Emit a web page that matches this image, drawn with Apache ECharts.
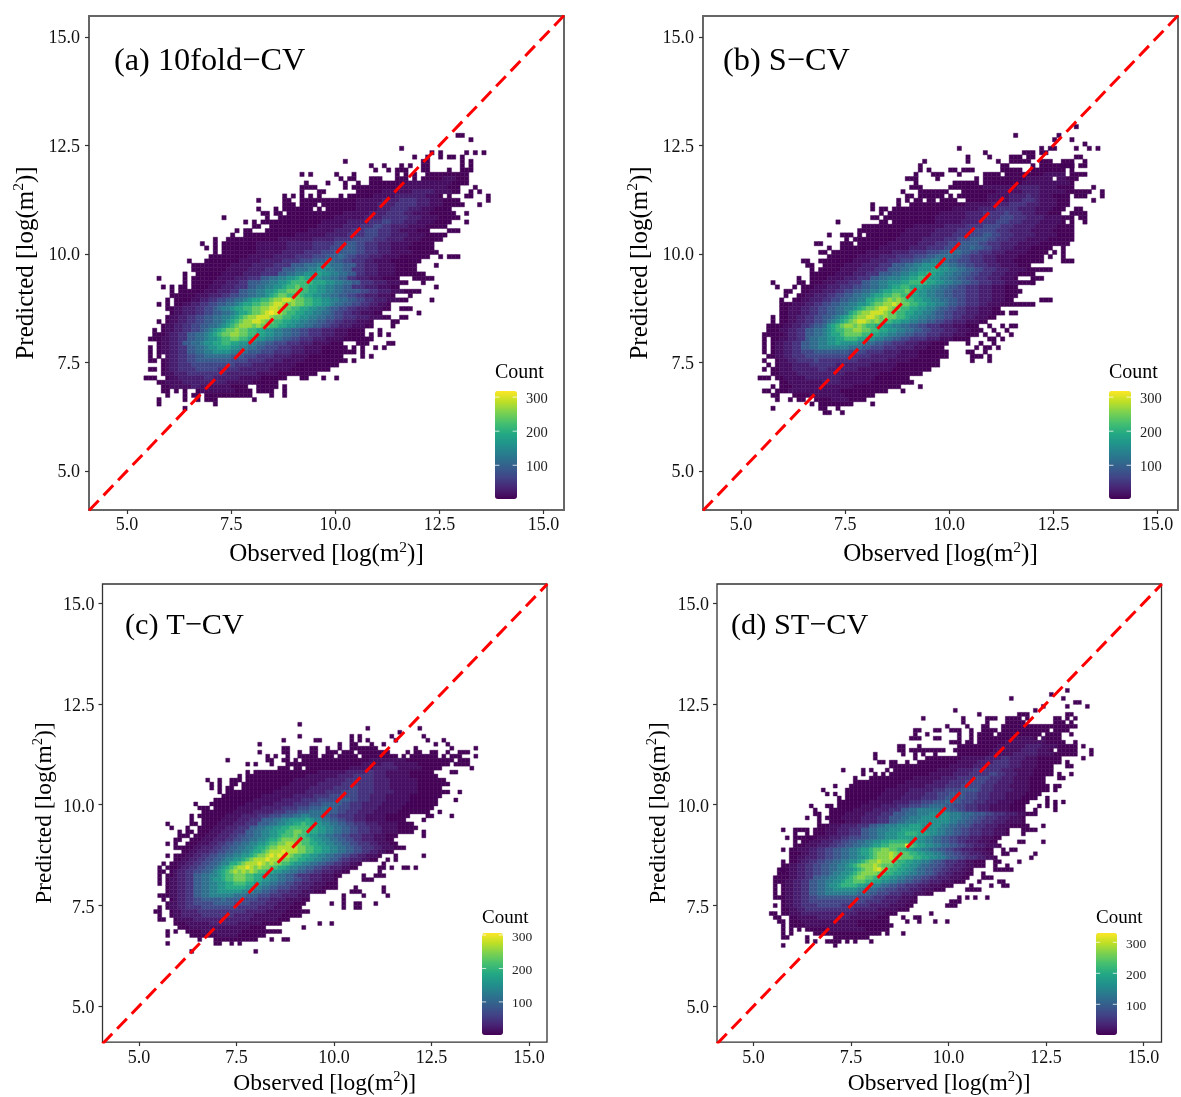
<!DOCTYPE html>
<html><head><meta charset="utf-8">
<style>html,body{margin:0;padding:0;background:#fff}#c{width:1181px;height:1097px}</style>
<script src="https://cdn.jsdelivr.net/npm/echarts@6/dist/echarts.min.js"></script>
</head><body><div id="c"></div>
<script>
const levelCounts = {'1':3,'2':14,'3':28,'4':46,'5':68,'6':90,'7':112,'8':136,'9':160,'a':186,'b':212,'c':242,'d':268,'e':295,'f':315};
const tickValues = [5, 7.5, 10, 12.5, 15];
const legendTicks = [100, 200, 300];
const panelTitles = ['(a) 10fold−CV', '(b) S−CV', '(c) T−CV', '(d) ST−CV'];
const countMax = [318, 318, 306, 330];

const rowsA = [
"72:11","75:1","","59:1","66:1 68:1 74:1 76:1 78:1","62:1 65:1 68:1 70:11 73:1","46:1 64:11 73:1 75:1",
"52:1 55:1 59:1 61:1 64:11 73:1 75:1","53:1 56:1 58:111 64:11 70:1 73:111",
"36:1 38:1 44:1 48:1 58:1 60:1 62:1 65:1111111111",
"45:1 47:11 52:111 58:111 62:1 64:11111222111",
"37:1 42:1 46:1 49:1 52:11111111222222222221111",
"36:1111 46:1 48:111 51:1111111122222222222111 76:1",
"36:1 40:11 49:111111222222233333222211 75:1 77:1",
"32:1 34:1 36:1 38:1 40:1 45:1 47:1 48:111112222233333332221.1 74:11 79:1",
"26:1 32:11 36:1111111111111222222333344443332221111 79:1",
"32:111 36:1111 41:111111112222233334444433322211111 77:1",
"26:1 30:1 32:1111111 40:1 42:11111112222233344443332221111",
"27:11 30:11 33:111111111111122222233334444332222111 69:111 74:1",
"18:1 28:1 31:111111111111122222223333444444333222211111",
"23:1 25:1 27:11 29:111111111111222222333334445544433322221111 74:1",
"25:11 29:11111111111222222333344455443333222211111",
"21:1 23:11 28:11111111112222223333444555444332222111 70:111",
"20:1 23:11111111111122222223333344445554443333222211111",
"16:1 19:11111111111122222222333334444555554443333222211111",
"13:1 16:1 18:1111111122222223333334444455566554443332222211111",
"14:1 16:1 18:1111111122222223333334444555666554443332222111111",
"16:1 18:11111111222222333334444555666665544433322222111111",
"15:11 17:1111111222222333334444555666765544433322221111111 68:1 70:111",
"10:1 14:1 15:1111111222223333344445556667766554443322221111111",
"11:111 14:1111112222233333444466677788977766644333222211111 67:1",
"11:11 13:11111122222333344446667778899887766444333222211111",
"9:1 12:1 13:11111222223333444466778899 9a9988776644333222211 11 62:111",
"3:1 9:1 11:11 13:1111222233344466778899abaa99887766443332221111 62:11111",
"9:1 11:11 13:11122233344666778899abbbbbaaa99887766444333222 11 64:1",
"4:1 6:1 8:11 11:1 12:11122233344466778899abbcbbaa9988776644433322211 67:1",
"6:1 8:111 11:111222333446677889 9abbcccbbaa99887766665544 3332221111",
"6:11 8:1 9:1112223334455667788 9abccbbcbaa9988776655443332221 61:1",
"5:1 7:1 8:11122334455667789aabbcddeedccbbaa99887766554433322211 66:1",
"3:1 5:1 7:1122334455667789aabbccdeedcdccbbaa9987766554433221",
"5:1 6:12233344556 7889 aabbc cddeed ccbba a9988 76655 44333222 11 59:111",
"6:1223334455667789aabccdefedcbbaa998877655443322211 63:1",
"5:122334455667788 9abcddeeedccbbaa998877665544433322211 59:11",
"3:1 5:122334455667789abcddeedccbbaa9988776655443332221 57:11",
"4:122334455667789abcdddcdccbbaa99887766554433322211 57:1",
"2:1 4:1223344556789abccdccbbaa99887766554443332221111 54:1",
"2:1 3:1123344667789abccddccbbaa99887766554443332221111 52:1 54:1 56:1",
"1:11 3:12233446677899abbccbbaa9988776655444333222211111 51:11",
"3:1223346677899aabbaa998877665554443332222111 49:111 56:11",
"1:1 3:12233446677899aaa998877665554443332222111111 48:1 50:1 53:1 55:1",
"1:1 3:122334466778899998877666555444433322221111111 48:1 50:1",
"1:1 3:1 5:23344556677777766655544443333222211111111 50:1 52:1",
"1:11 4:123344556666666655554444333322222111111111 46:1 48:1",
"4:12334445555555555444433333222221111111111",
"1:11 4:123344445555544444333333322222111111111",
"4:122333444444444333333322222111111111",
"0:111 5:1223 3333 3443 3333 3222 2211 1111 36:11 41:1 44:1",
"3:112222 3333 3333 3322 2222 11111 1",
"4:1122222 3322222 221111 26:11111 32:1",
"4:11 7:1 9:1 12:1222222221111 26:111 29:1 32:1",
"5:1 9:1 11:11 14:11111111111 29:1 32:1",
"3:1 9:1 12:1 14:111 25:1","3:1 16:1","9:1"
];

const rowsB = [
"73:1","","59:1 69:1","68:1 72:1","75:1","46:1 65:1 67:11 73:1 76:1 78:1","52:1 61:111 65:11",
"48:1 53:1 58:111 62:11 73:11","38:1 48:1 55:1 58:11111 65:111 70:111 75:1","37:1 56:11 63:1 65:11111111 70:111 74:11",
"37:1 39:1 44:11 47:111 56:11111 63:11111111 72:1",
"36:1 40:111 46:1 52:1111 57:11111111122222 72:1111",
"34:111 41:1 50:1 52:1111111111222222.22111",
"36:1 45:111 48:111 52:111111111222222222221",
"35:111 44:11111111222222223333322221111 77:1",
"33:1 37:1111111 47:111111112222223333222222111111 79:1",
"34:11 37:111111 44:1 46:11111112222233334332221111 73:111 79:1",
"32:1 34:1 36:11 39:11 42:1111 48:111112222233344432222111 77:1",
"26:1 32:1 35:1 36:111111111111222222333344443332222111",
"26:1 28:11 31:1111111111111122222233334444433332222111 73:11",
"28:1 30:1111111111112222223333444445444333222111 72:1111",
"26:11 29:1 30:1111111111122222223333444455544433332222111 74:11",
"18:1 28:11 31:1111111111222222333344445554443333222221.1 75:1",
"24:1111111111112222222333334444555544433333222221111",
"23:11111111111222222233333444455555444333332222211111",
"16:1 19:111 23:1.111111112222222333334444555665544433333222221111",
"20:1 22:111111111122222233333444555666655444333322222111111",
"13:11 19:111 23:1111111222222233334445556666554443333222221111111",
"16:1 19:1111111112222222333344445556667665544333222211111 70:1",
"14:11 17:11111111222222333344445556677766554443332222211111 68:1 70:1",
"16:11111112222233334444555667777665544433322222111111 67:1 70:1",
"10:11 14:11 16:11111122223333444555667788776655544433322221111111 70:111",
"11:11 15:111112222333344466677889999887766554443332222111",
"12:1 14:11111222233334446667788999aa99887766554443332222111111",
"12:11 14:11112222333444666778899aaba9988776655444333222111 63:1",
"9:1 12:11112222333444667788899aabba99887766554443332221 63:111",
"3:1 9:11 12:111222333444667788999aabbbbaa99887766554443332221111 63:1",
"4:1 8:1 10:111222333444556677889aabbaaa9988776655444333222111",
"6:11 10:1122233344556677889aabbbcba998877665554443332221111",
"6:1 9:112233344556677889aabbccbbaa99887766555444333222111",
"5:1 8:11223334455667788aabbcdcdcbbaa998877665544433322211 65:111",
"5:1 6:1122233445566778899abccddedccbbaa99887665544433222111 59:11111",
"5:112223344556677889abccdeedccbbaa9988766554433322211",
"5:1122233445566778abcddeeedccbbaa998876655444333222111 58:11",
"3:1 5:112233445566789abcddeedcdccbba99887766554433322211",
"3:1 5:11223344556789abcdeedcdcbbaa99887766554433322211",
"2:11 4:1122334456679abcddcdcbbaa9988776655444333222111 53:1 56:1 58:11",
"2:1 3:11223344667789abbccddccbbaa9988776655444333222111 54:1 57:1",
"1:111 4:1123344667789aabccccbbaa99887766555444333222111 52:1 55:1 58:1",
"1:1 3:112233446778899aabbbaa998877665544443332221111 53:11 56:1",
"1:1 3:122334466778899a9999887766554443332221111 48:1 51:1 54:1",
"1:1 3:1223344667788888887776655544433332221111 50:1 52:11 55:1",
"1:1 3:12233445556666666655554444333322221111111 48:11 52:1",
"2:1 3:12233444555555555544444333333222221111111 49:111 53:1",
"1:1 4:12233444454444444443333333222221111111 49:1 53:1",
"2:1 4:12223333444444333333332222221111111111",
"1:1 3:1122233333344333333322222222111111111",
"3:11222233333333333222222221111111111",
"0:111 4:1122222333333332222222211111111",
"5:1122222222333322222221111111111",
"3:1 5:1112222222222222211111111111 37:1",
"1:11 4:11122222222222211111111111 33:1",
"3:11 8:1111222222221111111",
"4:1 7:1 9:11 13:111122221111",
"12:1 14:11111111 26:1","3:1 14:11 18:1","15:11 19:1"
];

const rowsC = [
"36:1","53:1 66:1","61:1","36:1 49:1 51:1 59:1 67:1","32:1 40:11 49:1 51:1 53:1 60:1 68:1 72:1",
"26:1 46:1 49:11 54:1 57:1 70:1 73:1","32:11 39:11 43:1 46:1 49:1111111 65:1 74:1 80:1",
"26:1 32:11 36:1 39:11 43:111 47:111.11 53:111111 63:1 65:11 69:11 73:1 76:111",
"28:1 30:1 33:1 36:11111.111.11111.111111111 62:1 64:1111111 72:1 74:111 80:1",
"18:1 28:11 32:11 35:1 37:11111111111111111222222222111111111111 76:111",
"23:1 25:1 29:1 33:111 36:11111111111111112222233322222211111111 75:1111",
"31:111.11.1111111111122222233333322222211111 79:1",
"23:1 25:111111111111111122222223333344333222222111111 74:11",
"21:1 23:11 25:1111111111111222222223333444443332222221111111",
"13:1 16:1 19:111 23:11111111111122222222333334444444333322222221111111",
"14:1 16:1 19:11 22:1 23:111111111112222222333333444444443333222222211111111",
"14:1 16:1 18:11 22:11111111112222222333333444455444433332222222111111",
"16:1 18:1 19:1111111111122222222333334444555544443333322222211111111 76:1",
"17:1111111111222222223333344445555555444333322222211111111",
"15:11111111112222222333334444555556665544433332222221111111 75:1",
"10:1 14:111111111222222233333444455566666554443333322222211111111",
"11:111 15:1111112222223333344445556667766555444333322222211111111",
"12:11 14:1111112222233333444555666777766655444333322222211111111 71:1",
"9:1 11:11 13:111112222333344455566677887776655444433322222111111 68:11 74:1",
"9:1 12:1 13:111122223334446667788999 9a98877665544333222221 1111 67:1",
"3:1 9:11 12:111122223334446667788 99aabaa9988776655444333222221111",
"4:1 8:1 11:1111222333444667788 99aabbbbbaa9988776655444333222211111",
"6:1 8:11 11:111222333444667788 99aabbccbbaa998877665544433322221111 67:1",
"6:11 8:1 10:111222333445566778899abbbcbba9988776655444333222111 67:1",
"5:11 9:11122233344556677889aabccccbbba99887766554433322211",
"3:1 5:1 8:11122233445566778899abbccddccbbaa99887766554443322211",
"5:11 7:1112233344556677889aabccdddddccbbaa998877665544433222111",
"7:112233344556677889aabcdddedddccbbaa998877665544332211",
"3:1 5:1 6:112233445566778899abccdededdcbbaa998877665544332221 60:1 67:1",
"5:11223344556678899abcdddedddccbbaa998877665443332211 58:1 60:1",
"2:1 4:112233445566788aabcdddedcdccbba99887766554433221 57:1",
"1:1 3:1 4:11233445566789abcddedcdccbbaa988776655443332211 56:11 59:1 62:11 65:1",
"1:11 4:1233445566789abcdcdcdcbbaa9988776655443332211 56:1",
"1:1 3:11233446677889abbcccbbaa99887766544433322211 52:1 55:111",
"1:1 3:12233446677899abbcccbbaa9988776655443332221 52:111",
"1:1 3:122334466778899aabbbaa998877665544333222111",
"3:122334466778899aaaaa99887766555443332221111 50:1 57:1",
"3:1223344667788999999888776655444333222111 49:111 57:1",
"1:11 3:122334466778888887776665554443333222 47:1 52:1 58:1",
"2:1 4:12334455666667666655554443333222211 47:1",
"3:12233445555566666555544443332222111 44:1 47:1 50:11 55:1",
"1:1 3:1223344445555555554444433332222111 47:1 50:11",
"0:11 4:12233334444444444443333322222111111",
"1:1 4:122333334444444433333222222211111",
"1:11 5:12222333333333333332222222111",
"5:111222222333333322222211111 41:1 44:1",
"6:1112222222222222221111 37:1",
"3:1 5:1 8:111122222222221111111111",
"3:1 9:1 10:111111222221111111",
"11:1 15:11111111111 29:1 32:11",
"3:1 15:11 19:1 21:1","","9:1 25:1"
];

const rowsD = [
"74:1","70:1","60:1 73:1","76:11","68:1 74:1 79:1","46:1 66:1","52:1 62:111 74:11",
"38:1 48:1 54:1 55:11 59:1111 64:1 71:11 74:1 76:1",
"48:1 54:1 59:1111 63:1 71:111 75:1",
"44:1 49:1 53:11 58:1111111111111 71:111111",
"36:11 41:1 42:1 45:111 50:1 53:1111.111111111111.1111",
"36:1 39:1 47:1 50:1 52:1111.11111111111.1111 75:1",
"35:1 36:11 41:11 47:1 50:1 52:111111111222221.21111",
"45:111 49:11.1111111222222222211111 76:1",
"32:11 37:1 47:111111111122222223333222211111 78:1",
"32:11 35:111111111 46:1111111111222222233332221.11111 80:1",
"26:1 33:1 36:1 38:1 41:1 47:111111112222223333332222111111 80:1",
"26:1 36:1 39:1111111112222223333443333222111111 78:1",
"27:11 30:11 34:1 37:111111111122222333344443332222111111 74:1",
"30:111 33:11111111111122222233334444433322221111 74:11",
"18:1 23:1 25:1 29:1 31:1111111111122222333344444443332222211111",
"23:1 26:1 28:1 30:11111111112222223333444445544333222211111 72:1 75:1",
"21:1 25:11111111111222222233334444555544433322221111 72:11",
"21:1 22:11111111111122222223333444455555444333322221111",
"16:1 20:11111111111122222223333344445555544433332222211111 71:11",
"13:1 19:111111111122222233333344455556666544433333222211111 71:1",
"14:1 16:1 19:1111111112222223333344455566665554443333222221111",
"17:1 19:111111112222223333344445566666555444333322221111 69:1",
"17:1 18:11111112222223333444555666776655544433322221111 69:1 71:1 73:1",
"10:1 14:11 17:11111122222333344455566777766555444333222221111 67:1 69:1 71:1",
"11:1 15:1111112222233334446677888888776655444333222221111 66:1 71:1",
"11:11 15:111122222333344466677788899999888777666554443332211 66:1",
"9:1 12:1 14:11112222233334446667788899999998887766554443332221",
"12:1 15:1111222233334446677888999999998877665544433322221",
"12:11122233334446677888999aaa99999887766654443332221111 64:1 68:1",
"3:1 6:1111 11:111222333444667788899 9aaaaa9999887766554443332221 63:1111",
"6:1 9:1 11:111222333444667788999aabbbaaa99887766554443332221 63:1",
"4:1 6:11111 10:1122233344555667788999aaaaa998877665544433322211",
"6:1 8:11222333445566778899aabbbbbaa99887766554433322211 62:11 68:1",
"6:11 8:122233344556677889aabbccccfcbaa9988776655443332221",
"3:1 5:112223344556677889aabccddccbbaa99887766554433322211 58:1 60:11",
"5:1 6:11223344556677889aabcdddedcccbbaa99887665544333221 58:11 66:1",
"5:1122333445566778899abcdddeddcccbbaa99887665544433221 65:1",
"3:1 5:11233445566778899abcddedddcbbaa998876654443322111 56:11 62:1",
"3:11223344556677889abcdddedcccbbaa9987766554433322111 56:1 59:1",
"2:11 3:112233445566778899abcddefdcbbaa99877665544333221 56:1111 60:1",
"2:1 3:11223344556678899abcddddccbbaa998877665443322211 53:1",
"1:11 3:1122334466778899abcddccbbaa99887766554433322211 53:11 55:1",
"1:11 3:122334466778899abbcccbbaa998877665544333222111 52:1 57:11",
"1:1 3:12233446677899abbbbaa9988776655444333222111 50:1 55:1 58:11",
"1:1 3:12233446677889999998877766555444333222111 49:1111",
"1:1 3:12233446677888888887776655544433322211",
"1:11 3:1223344556666666666555544433332221 47:1 49:1 51:1 54:1",
"3:1223344555555555555554444333322211 45:111",
"1:1 3:122334444555555444444433333222211 44:111",
"3:11223344444444444433333322222111",
"0:11 3:11222333333333333332222222111 40:1",
"1:11 5:1122222333333332222222111 33:1 36:11",
"2:11 5:1112222222222222211111111 34:1 37:1 41:1 44:1",
"3:1 5:11112222222222222111111111",
"3:1 5:1 7:1 9:111111222222222111111",
"3:1 5:1 11:1111111111111111 27:1 29:1 33:1",
"3:11 9:1 16:111111111",
"9:1 11:1 14:1111 19:1 21:1 25:1",
"3:1 16:1"
];

const panelRows = [rowsA, rowsB, rowsC, rowsD];
const serif = 'Liberation Serif';
const viridis = ['#440154','#482475','#414487','#355f8d','#2a788e','#21918c','#22a884','#44bf70','#7ad151','#bddf26','#fde725'];

// Frames and bin geometry of each panel (pixels for frames, axis units for bins).
const frames = [
 {l:89,t:16,w:475,h:494,x:[4.088,15.49],y:[4.10,15.48],x0:5.457,y0:12.73,bx:.104,by:.0998,name:25,border:'#666',bw:2,tl:114,tt:46,ts:32.3,lg:[495,391,22,108],ct:[495,363],cs:20,ls:14.5,nx:30,ny:48,my:9,mx:6,py:3,pl:4},
 {l:703,t:16,w:475,h:494,x:[4.088,15.49],y:[4.10,15.48],x0:5.457,y0:12.93,bx:.104,by:.0998,name:25,border:'#666',bw:2,tl:723,tt:46,ts:32.3,lg:[1109,391,22,108],ct:[1109,363],cs:20,ls:14.5,nx:30,ny:48,my:9,mx:6,py:3,pl:4},
 {l:102.5,t:584,w:444.5,h:460,x:[4.064,15.46],y:[4.11,15.47],x0:5.428,y0:11.99,bx:.1026,by:.0988,name:23.5,border:'#333',bw:1.3,tl:125,tt:611,ts:30.3,lg:[482,933,21,102],ct:[482,909],cs:19,ls:13.5,nx:28,ny:44,my:8,mx:7,py:5,pl:4},
 {l:717,t:584,w:444.5,h:460,x:[4.064,15.46],y:[4.11,15.47],x0:5.454,y0:12.83,bx:.1026,by:.0988,name:23.5,border:'#333',bw:1.3,tl:731,tt:611,ts:30.3,lg:[1096,933,21,102],ct:[1096,909],cs:19,ls:13.5,nx:28,ny:44,my:8,mx:7,py:5,pl:4}
];

function binsOf(rows, f){
  const out=[];
  rows.forEach((row,r)=>{
    let col=0;
    row.split(' ').forEach(seg=>{
      if(!seg) return;
      let text=seg;
      if(seg.includes(':')){const p=seg.split(':');col=+p[0];text=p[1];}
      for(const ch of text){
        if(ch!=='.') out.push([f.x0+col*f.bx, f.y0-r*f.by, levelCounts[ch]]);
        col++;
      }
    });
  });
  return out;
}

const grids=[],xAxes=[],yAxes=[],series=[],visualMaps=[],titles=[];
const axisName=(t)=>t+' [log(m{s|2})]';
frames.forEach((f,i)=>{
  const g=i;
  grids.push({left:f.l,top:f.t,width:f.w,height:f.h,show:true,borderColor:f.border,borderWidth:f.bw,backgroundColor:'#fff'});
  const common=(margin,pad)=>({
    axisLine:{show:false},splitLine:{show:false},
    axisTick:{show:true,length:4,lineStyle:{color:'#333',width:1.2},customValues:tickValues},
    axisLabel:{customValues:tickValues,formatter:v=>'{t|'+v.toFixed(1)+'}',margin:margin,
      rich:{t:{fontFamily:serif,fontSize:18,color:'#111',padding:[pad,0,0,0]}}}
  });
  const nameStyle={fontFamily:serif,fontSize:f.name,color:'#000',rich:{s:{fontFamily:serif,fontSize:f.name*0.62,verticalAlign:'bottom',padding:[0,0,f.name*0.55,0],color:'#000'}}};
  xAxes.push({type:'value',gridIndex:g,min:f.x[0],max:f.x[1],name:axisName('Observed'),nameLocation:'middle',nameGap:f.nx,nameTextStyle:nameStyle,...common(f.mx,0)});
  yAxes.push({type:'value',gridIndex:g,min:f.y[0],max:f.y[1],name:axisName('Predicted'),nameLocation:'middle',nameGap:f.ny,nameTextStyle:nameStyle,...common(f.my,f.py)});
  series.push({
    type:'custom',xAxisIndex:g,yAxisIndex:g,coordinateSystem:'cartesian2d',z:2,animation:false,silent:true,
    dimensions:['x','y','count'],encode:{x:0,y:1},
    data:binsOf(panelRows[i],f),
    renderItem:(p,api)=>{
      const x=api.value(0),y=api.value(1);
      const a=api.coord([x-f.bx/2,y+f.by/2]),b=api.coord([x+f.bx/2,y-f.by/2]);
      const col=api.visual('color');
      return {type:'rect',shape:{x:a[0],y:a[1],width:b[0]-a[0],height:b[1]-a[1]},style:{fill:col,stroke:col,lineWidth:0.4}};
    }
  });
  visualMaps.push({type:'continuous',seriesIndex:i,dimension:2,min:1,max:countMax[i],calculable:false,realtime:false,hoverLink:false,
    inRange:{color:viridis},left:f.lg[0],top:f.lg[1],itemWidth:f.lg[2],itemHeight:f.lg[3],padding:0,z:4,show:true});
  titles.push({text:panelTitles[i],left:f.tl,top:f.tt,textStyle:{fontFamily:serif,fontSize:f.ts,fontWeight:'normal',color:'#000'},padding:0});
  titles.push({text:'Count',left:f.ct[0],top:f.ct[1],textStyle:{fontFamily:serif,fontSize:f.cs,fontWeight:'normal',color:'#000'},padding:0});
});
// Identity lines
frames.forEach((f,i)=>{
  const lo=Math.min(f.x[0],f.y[0]),hi=Math.max(f.x[1],f.y[1]);
  series.push({type:'line',xAxisIndex:i,yAxisIndex:i,data:[[lo,lo],[hi,hi]],symbol:'none',z:5,silent:true,animation:false,clip:true,
    lineStyle:{color:'#ff0000',width:3,type:[14,7]}});
});
// Colour-bar scales
frames.forEach((f,i)=>{
  const g=4+i;
  grids.push({left:f.lg[0],top:f.lg[1],width:f.lg[2],height:f.lg[3],show:false});
  xAxes.push({type:'value',gridIndex:g,min:0,max:1,show:false});
  yAxes.push({type:'value',gridIndex:g,min:1,max:countMax[i],position:'right',axisLine:{show:false},axisTick:{show:false},splitLine:{show:false},
    axisLabel:{customValues:legendTicks,margin:9,formatter:v=>'{t|'+v+'}',rich:{t:{fontFamily:serif,fontSize:f.ls,color:'#222',padding:[f.pl,0,0,0]}}}});
  series.push({type:'custom',xAxisIndex:g,yAxisIndex:g,coordinateSystem:'cartesian2d',z:10,silent:true,animation:false,
    data:legendTicks.map(v=>[v]),encode:{y:0},
    renderItem:(p,api)=>{
      const v=api.value(0);
      const a=api.coord([0,v]),b=api.coord([0.2,v]),c=api.coord([0.8,v]),d=api.coord([1,v]);
      const st={stroke:'rgba(255,255,255,0.75)',lineWidth:1};
      return {type:'group',children:[
        {type:'line',shape:{x1:a[0],y1:a[1],x2:b[0],y2:b[1]},style:st},
        {type:'line',shape:{x1:c[0],y1:c[1],x2:d[0],y2:d[1]},style:st}]};
    }});
});
const chart=echarts.init(document.getElementById('c'),null,{renderer:'canvas'});
chart.setOption({animation:false,backgroundColor:'#fff',title:titles,grid:grids,xAxis:xAxes,yAxis:yAxes,visualMap:visualMaps,series:series,tooltip:{show:false}});
</script></body></html>
